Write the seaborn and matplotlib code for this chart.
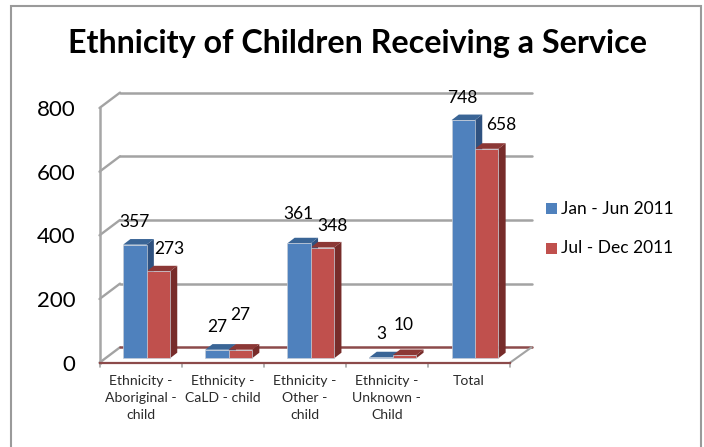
import matplotlib
matplotlib.use("Agg")
import matplotlib.pyplot as plt
import pandas as pd
import seaborn as sns
from matplotlib.lines import Line2D
from matplotlib.patches import Polygon, Rectangle
from matplotlib.transforms import ScaledTranslation, IdentityTransform

categories = ["Ethnicity -\nAboriginal -\nchild", "Ethnicity -\nCaLD - child", "Ethnicity -\nOther -\nchild",
              "Ethnicity -\nUnknown -\nChild", "Total"]
jan_jun = [357, 27, 361, 3, 748]
jul_dec = [273, 27, 348, 10, 658]
series_names = ["Jan - Jun 2011", "Jul - Dec 2011"]
y_ticks = [0, 200, 400, 600, 800]

BLUE, RED = "#4F81BD", "#C0504D"
SIDES = {BLUE: "#2F5280", RED: "#772C2A"}
TOPS = {BLUE: "#3A6596", RED: "#8C3836"}
W, H, DPI = 704, 447, 100
PIXELS = IdentityTransform()

df = pd.DataFrame({"category": categories * 2,
                   "value": jan_jun + jul_dec,
                   "series": [series_names[0]] * 5 + [series_names[1]] * 5})

sns.set_theme(style="white")
plt.rcParams["font.family"] = ["Lato", "DejaVu Sans"]

fig = plt.figure(figsize=(W / DPI, H / DPI), dpi=DPI)
# outer frame runs off the bottom of the picture
fig.patches.append(Rectangle((11, -10), 690, H - 5.5 + 10, transform=PIXELS, fill=False, ec="#9a9a9a", lw=1.5))

# the axes box is the front plane of the fake 3d chart
ax = fig.add_axes([99.5 / W, (H - 362.7) / H, 410.5 / W, 254.7 / H])
ax.patch.set_alpha(0)
sns.barplot(data=df, x="category", y="value", hue="series", palette=[BLUE, RED],
            width=0.57, gap=0, dodge=True, saturation=1, legend=False, ax=ax, zorder=3)
ax.set_xlim(-0.5, 4.5)
ax.set_ylim(0, 800)
ax.set_xlabel("")
ax.set_ylabel("")
ax.set_yticks(y_ticks)
ax.tick_params(axis="y", length=6, width=1.5, color="#a6a6a6", labelsize=16, pad=11.5, labelcolor="black")
ax.set_xticks(range(5), categories, linespacing=1.5)
ax.tick_params(axis="x", length=0, labelsize=10.1, pad=8.5, labelcolor="#2a2a2a")
# category ticks sit between the groups, labels stay on the centres
for edge in [-0.5, 0.5, 1.5, 2.5, 3.5, 4.5]:
    ax.plot([edge, edge], [0, -12], color="#a6a6a6", lw=1.2, clip_on=False, zorder=2)
for side in ["top", "right"]:
    ax.spines[side].set_visible(False)
ax.spines["left"].set_color("#a6a6a6")
ax.spines["left"].set_linewidth(1.8)
ax.spines["bottom"].set_color("#8C4A4A")
ax.spines["bottom"].set_linewidth(1.6)

# back wall and floor, offset in pixels from the front plane
wall_dx, wall_dy = 20.5, 15.4
for tick in y_ticks:
    lx, ly = ax.transData.transform((-0.5, tick))
    rx, _ = ax.transData.transform((4.5, tick))
    ax.add_line(Line2D([lx, lx + wall_dx], [ly, ly + wall_dy], transform=PIXELS, color="#a3a3a3",
                       lw=1.7, zorder=1, clip_on=False))
    colour = "#8C4A4A" if tick == 0 else "#a3a3a3"
    ax.add_line(Line2D([lx + wall_dx, rx + wall_dx + 1], [ly + wall_dy] * 2, transform=PIXELS, color=colour,
                       lw=1.8, zorder=1, clip_on=False))
    if tick == 0:
        ax.add_line(Line2D([rx, rx + wall_dx + 1], [ly, ly + wall_dy], transform=PIXELS, color="#a3a3a3",
                           lw=1.5, zorder=1, clip_on=False))

# bars stand a little behind the front plane
bar_shift = ScaledTranslation(6 / DPI, 4.4 / DPI, fig.dpi_scale_trans)
depth_x, depth_y = 7.3, 5.6
label_nudges = [(0, 23), (11, 22), (0, 23), (0, 35), (-1, 29), (10, 22), (0, 23), (-1, 30), (-1, 22), (15, 24)]
bars = sorted(ax.patches, key=lambda b: b.get_x())
bar_colours = [BLUE, RED] * 5
for bar, colour in zip(bars, bar_colours):
    bar.set_transform(ax.transData + bar_shift)
    bar.set_edgecolor("#c4cbd6")
    bar.set_linewidth(0.5)
    bar.set_clip_on(False)
    bar.set_zorder(3.1)
    x0, x1 = bar.get_x(), bar.get_x() + bar.get_width()
    (ax0, ay0), (ax1, ay1) = (ax.transData + bar_shift).transform([(x0, bar.get_height()), (x1, 0)])
    side = Polygon([(ax1, ay1), (ax1 + depth_x, ay1 + depth_y), (ax1 + depth_x, ay0 + depth_y), (ax1, ay0)],
                   transform=PIXELS, fc=SIDES[colour], ec="none", zorder=3, clip_on=False)
    cap = Polygon([(ax0, ay0), (ax0 + depth_x, ay0 + depth_y), (ax1 + depth_x, ay0 + depth_y), (ax1, ay0)],
                  transform=PIXELS, fc=TOPS[colour], ec="none", zorder=3, clip_on=False)
    ax.add_patch(side)
    ax.add_patch(cap)

# value labels, group by group
order = [v for pair in zip(jan_jun, jul_dec) for v in pair]
for bar, value, (nx, ny) in zip(bars, order, label_nudges):
    ax0, ay0 = (ax.transData + bar_shift).transform((bar.get_x() + bar.get_width() / 2, bar.get_height()))
    ax.annotate(str(value), (ax0 + nx, ay0 + ny), xycoords=PIXELS, ha="center", va="center",
                fontsize=12.5, color="black", zorder=5, annotation_clip=False)

# legend
for name, colour, y in zip(series_names, [BLUE, RED], [208.5, 248]):
    fig.patches.append(Rectangle((546, H - y - 5.5), 11, 11, transform=PIXELS, fc=colour, ec="none"))
    fig.text(561 / W, (H - y) / H, name, fontsize=12.5, va="center", ha="left", color="black")

fig.text(358 / W, (H - 53.5) / H, "Ethnicity of Children Receiving a Service", fontsize=23.2,
         fontweight="bold", ha="center", va="baseline", color="black")

fig.savefig("out.png", dpi=DPI)
